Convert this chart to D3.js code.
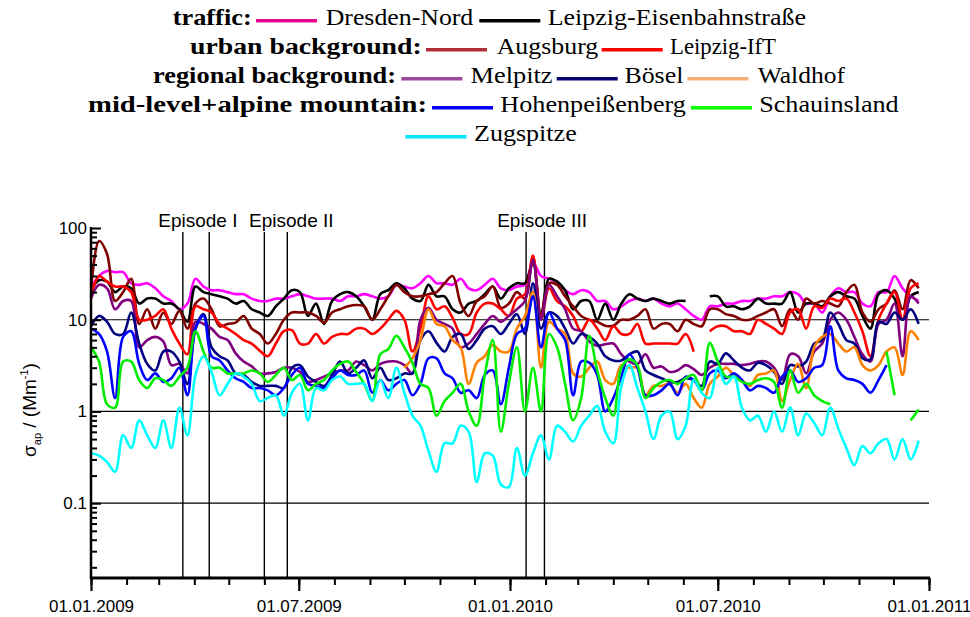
<!DOCTYPE html>
<html>
<head>
<meta charset="utf-8">
<script src="https://cdn.jsdelivr.net/npm/d3@7"></script>
<style>
  body { margin: 0; background: #fff; }
  svg { display: block; }
</style>
</head>
<body>
<svg id="chart" width="970" height="617"></svg>
<script>
// Weekly absorption coefficients sigma_ap (Mm^-1), one value per week from 01.01.2009
const START = new Date(Date.UTC(2009, 0, 1));
const END = new Date(Date.UTC(2011, 0, 1));
const sampleDates = d3.range(104).map(i => d3.utcDay.offset(START, 7 * i));

const groups = ["traffic:", "urban background:", "regional background:", "mid-level+alpine mountain:"];
const stations = ["Dresden-Nord", "Leipzig-Eisenbahnstraße", "Augsburg", "Leipzig-IfT", "Melpitz",
                  "Bösel", "Waldhof", "Hohenpeißenberg", "Schauinsland", "Zugspitze"];

const dresdenNord = [22,30,34,33,33,25,24,25,22,18, 16,13,15,28,23,21,21,20,19,19,
  17,16,16,17,17,18,19,18,17,17, 17,16,18,18,19,18,17,18,24,23,
  22,25,30,25,25,24,28,22,21,24, 28,22,21,23,24,42,30,28,26,21,
  19,21,20,16,16,13,14,16,17,16, 17,15,14,15,13,11,10,14,14,15,
  15,16,16,17,17,18,18,20,19,15, 15,12,18,22,20,20,15,14,20,20,
  30,22,18,16];

const leipzigEisenbahnstrasse = [21,27,26,20,23,22,15,17,17,15, 15,13,9.5,23,20,19,18,17,15,16,
  13,12,11,14,17,21,20,11,15,9, 16,19,20,18,14,10,19,21,25,22,
  17,16,24,18,18,13,12,15,16,19, 23,17,22,25,25,42,11,28,26,21,
  13,16,16,10,15,10,15,19,17,16, 17,16,15,16,16,null,null,18,18,14,
  14,13,14,17,15,15,15,20,12,15, 15,14,18,20,18,17,11,8,19,21,
  17,10,18,20];

const augsburg = [21,72,52,16,20,28,9,13,8,12, 9,12.5,8,15,17,13,8.5,9,9.3,11,
  8,7,5.5,7,10,12,12,12,11,9.3, 12,13,14,14.5,14,10,13,18,24,20,
  18,18,19,20,25,30,15,11,16,18, 23,13.5,15,20,17,48,11,25,24,18,
  14,11,10,9.5,8.6,8.6,10,10,11,13, 8,9,9,7.5,10,9,8.5,13,13,11.5,
  11,10,10,11,12,13,8.5,13,10,17, 15,16,15,14,20,24,12,9.5,13,15,
  21,13,27,22];

const leipzigIfT = [18,30,26,23,23,20,10,10,11,13, 8,5.5,4.2,14,13,12,9,8,7,6,
  5.5,4.6,4,5.5,7.5,7.7,5.5,5.5,7,5.5, 6.5,7,7,8,8,7,8,10,12.5,10,
  4.5,8,18,13,14,10.5,7,7,12,15, 15,13,11,17,19,50,10,22,16,14,
  11,7.5,10,8,6,8.5,7,7,9,5.5, 5.5,5.5,5.5,5.5,7,4.5,null,7.5,8.5,8.5,
  7.5,7.5,7,10,9,8,7,12,13,8, 14,13.5,17,16,17,12,7.5,4,10,15,
  20,10,22,25];

const melpitz = [17,24,22,13,16,16,5,6,6.5,5.8, 3.2,3.3,2.6,9.5,9,8,6.5,6,4.3,3.5,
  3.1,2.6,2.6,2.7,3,3,2.7,2.1,2.2,2.4, 2.6,2.8,2.8,3.5,3.2,2.8,3.3,3.5,3.5,3.2,
  2.6,10,13.5,10,9,8,5,5.5,7,9, 11,9.5,11,13,16,45,10,24,18,13,
  8,7.5,5.8,5.2,5.4,5.5,4.2,3.5,3.3,4.2, 3,3.1,2.7,2.8,3.2,2.9,2.5,3,3.3,3.3,
  3.3,3.2,3.3,3.5,3.5,3,2.2,4.2,4,2.6, 4.5,5.5,10,12,10,6.5,4.2,3.5,9,10,
  15,4,18,15];

const boesel = [8.5,11,9.5,7,7,12,5.5,3.3,2.8,4.5, 4.5,3.5,2,8,11.5,5,4,3.6,2.6,2.5,
  2.1,1.9,1.9,1.9,1.8,3,3.2,2.4,2.1,1.9, 2.5,3.5,2.6,3,3.6,2.3,3,2.2,2.3,2.6,
  2.6,6,7.5,5.6,4.5,6.5,7,4.8,6,8, 8.5,7,9,11.5,7,25,8,12,11,8,
  5.5,7,6.5,5.5,4,3.6,3.6,4.2,4.5,2.8, 2.5,2.3,2.1,2.1,2.3,2.2,1.9,3.5,3.3,4.3,
  3.6,3,2.8,3.4,3.2,2.7,2,3.2,3.1,3.5, 5.5,6,12,9,6,5.5,3.8,3.7,9.5,9,
  12,10,13,9];

const waldhof = [null,null,null,null,null,null,null,null,null,null,
  null,null,null,null,null,null,null,null,null,null,
  null,null,null,null,null,null,null,null,null,null,
  null,null,null,null,null,null,null,null,null,3,
  3.8,6,13,9,8.5,6,5,2,3.4,4, 5.3,4.5,4.5,8,11,20,3,9.5,8,7,
  2.6,2.4,3,3.5,2.2,2,3.2,3,3,1.5, 1.9,1.9,2,1.6,2,1.4,1.1,2,2.4,3,
  2.5,2.2,1.9,2.5,2.6,2.8,1.3,2.2,3.3,1.8, 5,6.5,7,5.5,4.5,5,3.2,2.8,3.2,4.5,
  5,2.5,7.5,6];

const hohenpeissenberg = [8,7,4.5,1.4,6.5,7.5,3.3,2.2,2.6,2.1, 2.3,3,1.5,8,11,4,3.6,2.8,2.3,2.1,
  1.8,1.8,1.7,1.5,1.8,2.5,3,2,1.9,1.8, 2.3,2.8,2.5,2.5,2.8,1.6,2.2,1.7,2,2.2,
  1.5,2,3.8,3.8,2.6,2.3,1.6,1.7,1.4,2.5, 2.8,1.2,3,7,8,18,5,12,8,6,
  1.5,3.5,3.4,2.5,1.0,1.4,2.4,4.2,3,1.5, 1.5,1.7,2,1.5,2.4,2.2,1.7,2.6,2.8,2.3,
  2.6,2.2,1.7,1.9,1.8,1.6,2.4,2.8,2.1,2.3, 3,3.2,8.5,2.8,2.3,2.2,2,1.6,2.2,3.2,
  null,null,null,null];

const schauinsland = [5,3.5,1.2,1.1,3.5,3.5,2.2,1.8,2.3,2.2, 1.9,2.4,3,7.5,4.5,3,3,2.6,2.6,2.6,
  2.8,2.6,2.1,2.5,3,2.2,2.5,1.7,2,2.2, 2.8,3.3,3.5,2.7,2,1.3,4.2,4.8,6.7,5,
  3.4,2,1.8,0.9,1.3,1.6,2,1.0,0.7,2.5, 6,0.6,2,5,1.0,3,1.0,7,5,2,
  0.8,1.4,6.7,2.8,1.4,0.9,3,3.7,3.2,1.4, 1.8,2.1,2.2,2,2.3,2.5,1.7,5.6,3.5,2.4,
  2.4,2.1,2,2.2,2.3,2.1,1.1,2.8,1.6,2, 1.5,1.3,1.2,null,null,null,null,null,null,4.5,
  1.5,null,0.8,1.05];

const zugspitze = [0.35,0.33,0.28,0.22,0.55,0.4,0.8,0.55,0.4,0.8, 0.4,1.1,0.55,2.5,4,2.7,1.5,2,2.6,2.4,
  2,1.3,1.4,1.5,0.9,1.6,2,0.8,1.8,1.7, 2.2,2.4,2,2,2,1.3,2.2,1.4,3,1.6,
  0.9,0.7,0.37,0.22,0.45,0.45,0.7,0.6,0.17,0.35, 0.33,0.16,0.15,0.4,0.2,0.35,0.55,0.3,0.7,0.6,
  0.47,0.7,0.9,1.15,0.6,0.45,1.9,3.2,1.8,1.0, 0.5,0.9,1.0,0.5,0.7,2.2,1.6,1.4,3.0,2,
  2.4,1.1,0.8,0.9,0.6,1.0,0.6,1.1,0.55,0.95, 0.75,0.55,1.1,0.65,0.4,0.26,0.42,0.35,0.45,0.5,
  0.3,0.5,0.3,0.48];

const seriesValues = [dresdenNord, leipzigEisenbahnstrasse, augsburg, leipzigIfT, melpitz,
                      boesel, waldhof, hohenpeissenberg, schauinsland, zugspitze];

// Pollution episodes marked by vertical lines
const episodeNames = ["Episode I", "Episode II", "Episode III"];
const episodeStart = ["2009-03-22", "2009-06-01", "2010-01-15"];
const episodeEnd = ["2009-04-14", "2009-06-21", "2010-01-31"];

const yMajorTicks = [0.1, 1, 10, 100];
const yTickLabels = ["0.1", "1", "10", "100"];
const gridValues = [0.1, 1, 10];

// ---- styling ----
const lineColors = ["#ff00ff", "#000000", "#800000", "#ff0000", "#800080",
                    "#000080", "#ff8000", "#0000ff", "#00ee00", "#00ffff"];
const legendColors = ["#e8078a", "#000000", "#b02e36", "#ff0000", "#9b4b9b",
                      "#06066e", "#f8ac78", "#0000ff", "#00ff00", "#00e6f8"];

const svg = d3.select("#chart");
const plot = { left: 91, right: 929, top: 228, bottom: 578 };

const x = d3.scaleUtc().domain([START, END]).range([plot.left, plot.right]);
const y = d3.scaleLog().domain([0.0153, 100]).range([plot.bottom, plot.top]);

svg.append("defs").append("clipPath").attr("id", "plot-clip")
  .append("rect")
  .attr("x", plot.left).attr("y", plot.top - 2)
  .attr("width", plot.right - plot.left).attr("height", plot.bottom - plot.top + 2);

// horizontal grid lines at decades
svg.append("g").selectAll("line").data(gridValues).join("line")
  .attr("x1", plot.left).attr("x2", plot.right)
  .attr("y1", d => y(d)).attr("y2", d => y(d))
  .attr("stroke", "#000").attr("stroke-width", 1.2);

// episode markers
const parseDay = d3.utcParse("%Y-%m-%d");
const episodeLabelOffset = [15, 27, 16];
const epi = svg.append("g");
episodeNames.forEach((name, i) => {
  [episodeStart[i], episodeEnd[i]].forEach(d => {
    epi.append("line")
      .attr("x1", x(parseDay(d))).attr("x2", x(parseDay(d)))
      .attr("y1", 232).attr("y2", plot.bottom)
      .attr("stroke", "#000").attr("stroke-width", 1.4);
  });
  epi.append("text")
    .attr("x", x(parseDay(episodeStart[i])) + episodeLabelOffset[i])
    .attr("y", 227)
    .attr("text-anchor", "middle")
    .attr("font-family", "Liberation Sans, Arial, sans-serif")
    .attr("font-size", 19)
    .text(name);
});

// data lines
const line = d3.line()
  .defined(d => d.v != null)
  .x(d => x(d.date))
  .y(d => y(d.v))
  .curve(d3.curveCatmullRom.alpha(0.5));

const linesG = svg.append("g").attr("clip-path", "url(#plot-clip)");
seriesValues.forEach((vals, i) => {
  const pts = vals.map((v, k) => ({ date: sampleDates[k], v }));
  linesG.append("path")
    .datum(pts)
    .attr("d", line)
    .attr("fill", "none")
    .attr("stroke", lineColors[i])
    .attr("stroke-width", 2.6)
    .attr("stroke-linejoin", "round");
});

// y axis: major and minor ticks point into the plot
const yMinor = [];
[0.01, 0.1, 1, 10].forEach(dec => d3.range(2, 10).forEach(m => {
  const v = +(dec * m).toPrecision(3);
  if (v >= y.domain()[0]) yMinor.push(v);
}));
svg.append("g").attr("transform", `translate(${plot.left},0)`)
  .call(d3.axisLeft(y).tickValues(yMinor).tickFormat("").tickSizeInner(-6).tickSizeOuter(0))
  .call(g => g.select(".domain").remove())
  .call(g => g.selectAll("line").attr("stroke-width", 2));
svg.append("g").attr("transform", `translate(${plot.left},0)`)
  .call(d3.axisLeft(y).tickValues(yMajorTicks)
    .tickFormat((d, i) => yTickLabels[i]).tickSizeInner(-10).tickSizeOuter(0).tickPadding(4))
  .call(g => g.select(".domain").remove())
  .call(g => g.selectAll("line").attr("stroke-width", 2))
  .call(g => g.selectAll("text")
    .attr("font-family", "Liberation Sans, Arial, sans-serif")
    .attr("font-size", 17).attr("fill", "#000"));

// x axis: monthly minor ticks, half-year major ticks with labels
svg.append("g").attr("transform", `translate(0,${plot.bottom})`)
  .call(d3.axisBottom(x).ticks(d3.utcMonth.every(1)).tickFormat("").tickSizeInner(7).tickSizeOuter(0))
  .call(g => g.select(".domain").remove())
  .call(g => g.selectAll("line").attr("stroke-width", 2));
svg.append("g").attr("transform", `translate(0,${plot.bottom})`)
  .call(d3.axisBottom(x).ticks(d3.utcMonth.every(6)).tickFormat(d3.utcFormat("%d.%m.%Y"))
    .tickSizeInner(13).tickSizeOuter(0))
  .call(g => g.select(".domain").remove())
  .call(g => g.selectAll("line").attr("stroke-width", 2.2))
  .call(g => g.selectAll("text")
    .attr("y", 34).attr("dy", 0)
    .attr("font-family", "Liberation Sans, Arial, sans-serif")
    .attr("font-size", 17).attr("fill", "#000"));

// axis lines
svg.append("line")
  .attr("x1", plot.left).attr("x2", plot.left)
  .attr("y1", y(100) - 1).attr("y2", plot.bottom)
  .attr("stroke", "#000").attr("stroke-width", 2.5);
svg.append("line")
  .attr("x1", plot.left - 1.2).attr("x2", plot.right + 1)
  .attr("y1", plot.bottom).attr("y2", plot.bottom)
  .attr("stroke", "#000").attr("stroke-width", 3);

// y axis title: sigma_ap / (Mm^-1)
const yTitle = svg.append("text")
  .attr("transform", "translate(36,410) rotate(-90)")
  .attr("text-anchor", "middle")
  .attr("font-family", "Liberation Sans, Arial, sans-serif")
  .attr("font-size", 19);
yTitle.append("tspan").text("σ");
yTitle.append("tspan").attr("font-size", 11).attr("dy", 5).text("ap");
yTitle.append("tspan").attr("dy", -5).text(" / (Mm");
yTitle.append("tspan").attr("font-size", 11).attr("dy", -8).text("-1");
yTitle.append("tspan").attr("dy", 8).text(")");

// legend: group label followed by line samples and station names
const legendRows = [
  { y: 20.7, group: 0, labelX: 172.7, labelW: 79,    items: [[256, 325.7, 147.6], [479.3, 547.7, 258.3]] },
  { y: 49.7, group: 1, labelX: 190,   labelW: 231.7, items: [[426, 496.7, 101.6], [601.7, 670, 106]] },
  { y: 78.7, group: 2, labelX: 153,   labelW: 243,   items: [[401.3, 470.5, 82], [556.7, 624.4, 59], [687.4, 757.7, 87.2]] },
  { y: 107.7, group: 3, labelX: 88,   labelW: 339,   items: [[432, 500.3, 185.6], [691, 759.2, 139.5]] },
  { y: 136.7, group: null, labelX: 0, labelW: 0,     items: [[405.4, 474, 102.7]] }
];
const legend = svg.append("g")
  .attr("font-family", "Liberation Serif, Times New Roman, serif")
  .attr("font-size", 23);
let stationIndex = 0;
legendRows.forEach(row => {
  if (row.group != null) {
    legend.append("text")
      .attr("x", row.labelX).attr("y", row.y + 4.5)
      .attr("font-weight", "bold")
      .attr("textLength", row.labelW).attr("lengthAdjust", "spacingAndGlyphs")
      .text(groups[row.group]);
  }
  row.items.forEach(([lx, tx, tw]) => {
    legend.append("line")
      .attr("x1", lx).attr("x2", lx + 61)
      .attr("y1", row.y).attr("y2", row.y)
      .attr("stroke", legendColors[stationIndex]).attr("stroke-width", 3.6);
    legend.append("text")
      .attr("x", tx).attr("y", row.y + 4.5)
      .attr("textLength", tw).attr("lengthAdjust", "spacingAndGlyphs")
      .text(stations[stationIndex]);
    stationIndex++;
  });
});
</script>
</body>
</html>
